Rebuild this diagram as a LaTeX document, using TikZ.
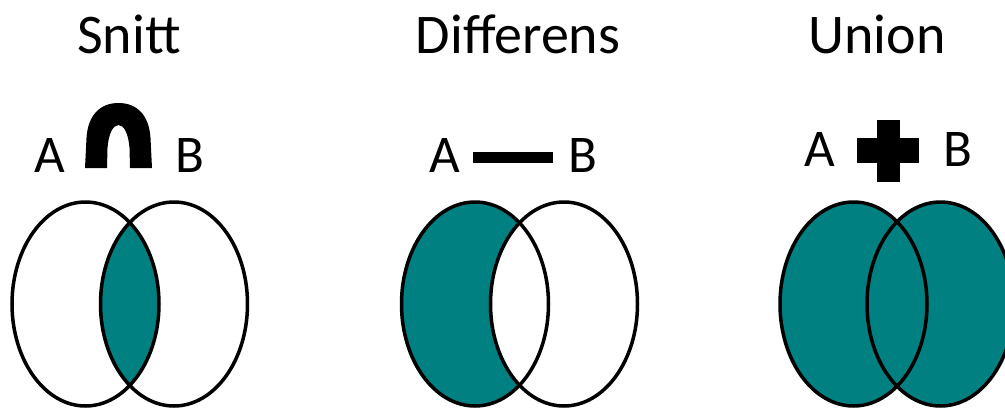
\documentclass[tikz,border=0pt]{standalone}
\usepackage{fontspec}
\setmainfont{Carlito}
\definecolor{tealfill}{RGB}{0,128,128}
\begin{document}
\begin{tikzpicture}[x=1pt,y=-1pt,
  ring/.style={draw=black,line width=3.5pt},
  title/.style={anchor=base,inner sep=0pt,font=\fontsize{56}{60}\selectfont},
  setlabel/.style={anchor=base,inner sep=0pt,font=\fontsize{53}{58}\selectfont},
  opsym/.style={fill=black,draw=none}]
\useasboundingbox (0,0) rectangle (1005,408);
\clip (0,0) rectangle (1005,408);
\fill[white] (0,0) rectangle (1005,408);

% ---------- Snitt ----------
\node[title] (t1) at (129,53) {Snitt};
\node[setlabel] (a1) at (50,172) {A};
\node[setlabel] (b1) at (190,172) {B};
\fill[opsym] (85,168) -- (86.5,138) .. controls (88,114) and (101,103) .. (118.5,103)
  .. controls (136,103) and (149,114) .. (150.5,138) -- (152,168) -- (130,168) -- (129.5,148)
  .. controls (128.5,134) and (124,125) .. (118.5,125)
  .. controls (113,125) and (108.5,134) .. (107.5,148) -- (107,168) -- cycle;
\begin{scope}
  \clip (85.5,304) ellipse[x radius=73.5,y radius=102];
  \fill[tealfill] (174,304) ellipse[x radius=73.5,y radius=102];
\end{scope}
\draw[ring] (85.5,304) ellipse[x radius=73.5,y radius=102];
\draw[ring] (174,304) ellipse[x radius=73.5,y radius=102];

% ---------- Differens ----------
\node[title] (t2) at (518,53) {Differens};
\node[setlabel] (a2) at (445,172) {A};
\node[setlabel] (b2) at (582.5,172) {B};
\fill[opsym] (473,152) rectangle (553,163);
\fill[tealfill] (475,304) ellipse[x radius=73.5,y radius=102];
\fill[white] (564,304) ellipse[x radius=73.5,y radius=102];
\draw[ring] (475,304) ellipse[x radius=73.5,y radius=102];
\draw[ring] (564,304) ellipse[x radius=73.5,y radius=102];

% ---------- Union ----------
\node[title] (t3) at (877,53) {Union};
\node[setlabel] (a3) at (820,166) {A};
\node[setlabel] (b3) at (957.5,166) {B};
\fill[opsym] (877,120) rectangle (900,182);
\fill[opsym] (857,138) rectangle (919,163);
\fill[tealfill] (853.5,304) ellipse[x radius=73.5,y radius=102];
\fill[tealfill] (940.5,304) ellipse[x radius=73.5,y radius=102];
\draw[ring] (853.5,304) ellipse[x radius=73.5,y radius=102];
\draw[ring] (940.5,304) ellipse[x radius=73.5,y radius=102];
\end{tikzpicture}
\end{document}
